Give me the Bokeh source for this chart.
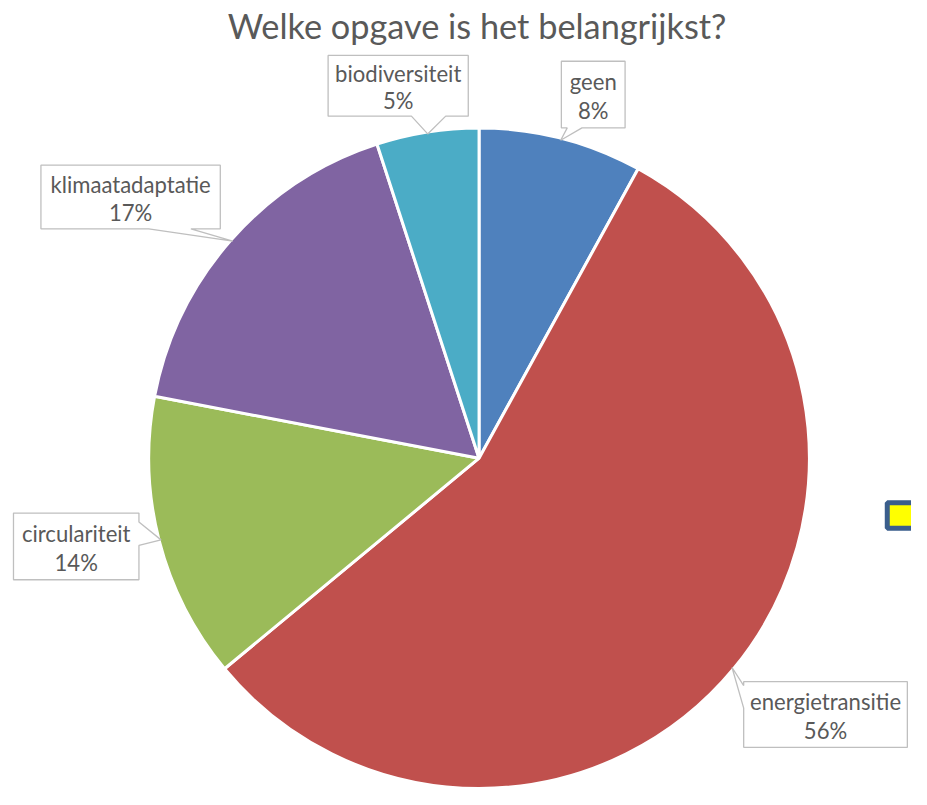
import numpy as np
from bokeh.plotting import figure
from bokeh.models import Range1d
from bokeh.core.properties import value
from bokeh.embed import file_html
from bokeh.resources import INLINE

# ---- data ----
categories = ["geen", "energietransitie", "circulariteit", "klimaatadaptatie", "biodiversiteit"]
shares = [8, 56, 14, 17, 5]
pct_labels = ["8%", "56%", "14%", "17%", "5%"]
colors = ["#4F81BD", "#C0504D", "#9BBB59", "#8064A2", "#4BACC6"]
title_text = "Welke opgave is het belangrijkst?"

REF_H = 805
S = 789 / 805.0
W, H = 911, 789
FONT = "Lato"
TXT = "#595959"

p = figure(width=W, height=H, output_backend="svg", toolbar_location=None,
           x_range=Range1d(-1.25, -1.25 + W / S), y_range=Range1d(0, REF_H),
           min_border=0)
p.axis.visible = False
p.grid.visible = False
p.outline_line_color = None
p.background_fill_color = "white"
p.border_fill_color = "white"

def Y(yref):
    return REF_H - np.asarray(yref, dtype=float)

cx, cy_ref, R = 487.0, 467.0, 337.0
cy = REF_H - cy_ref

fr = np.array(shares, dtype=float) / sum(shares)
ends = np.pi / 2 - 2 * np.pi * np.cumsum(fr)
starts = np.concatenate([[np.pi / 2], ends[:-1]])
mids = (starts + ends) / 2

p.wedge(x=cx, y=cy, radius=R, start_angle=ends, end_angle=starts,
        direction="anticlock", fill_color=colors, line_color="white", line_width=3)

# ---- callouts (box in reference pixel coords: l, r, t, b; pointer side & base) ----
boxes = {
    "geen": (571, 636, 62, 130, "bottom", (577, 592)),
    "energietransitie": (757, 924, 695, 762, "left", (699, 722)),
    "circulariteit": (12, 140, 523, 591, "right", (532, 556)),
    "klimaatadaptatie": (40, 223, 168, 233, "bottom", (150, 193)),
    "biodiversiteit": (333, 476, 56, 118, "bottom", (418, 453)),
}

for i, cat in enumerate(categories):
    l, r, t, b, side, (a1, a2) = boxes[cat]
    tipx = cx + (R - 2) * np.cos(mids[i])
    tipy_ref = cy_ref - (R - 2) * np.sin(mids[i])
    if side == "bottom":
        xs = [l, r, r, a2, tipx, a1, l]
        ys = [t, t, b, b, tipy_ref, b, b]
    elif side == "left":
        xs = [l, r, r, l, l, tipx, l]
        ys = [t, t, b, b, a2, tipy_ref, a1]
    else:  # right
        xs = [l, r, r, tipx, r, r, l]
        ys = [t, t, a1, tipy_ref, a2, b, b]
    p.patch(x=xs, y=Y(ys), fill_color="white", line_color="#BFBFBF", line_width=1.3)
    h = b - t
    mx = (l + r) / 2
    p.text(x=[mx, mx], y=Y([t + 0.30 * h, t + 0.74 * h]), text=[cat, pct_labels[i]],
           text_font=value(FONT), text_font_size=f"{22.5 * S:.1f}px", text_color=TXT,
           text_align="center", text_baseline="middle")

# title
p.text(x=[485], y=Y([25]), text=[title_text], text_font=value(FONT),
       text_font_size=f"{35 * S:.1f}px", text_color=TXT,
       text_align="center", text_baseline="middle")

# partial legend marker at right edge
p.quad(left=[903.5], right=[940], top=Y([512.5]), bottom=Y([538.5]),
       fill_color="#FFFF00", line_color="#3A5E8C", line_width=5)

open("out.html", "w").write(file_html(p, INLINE))
